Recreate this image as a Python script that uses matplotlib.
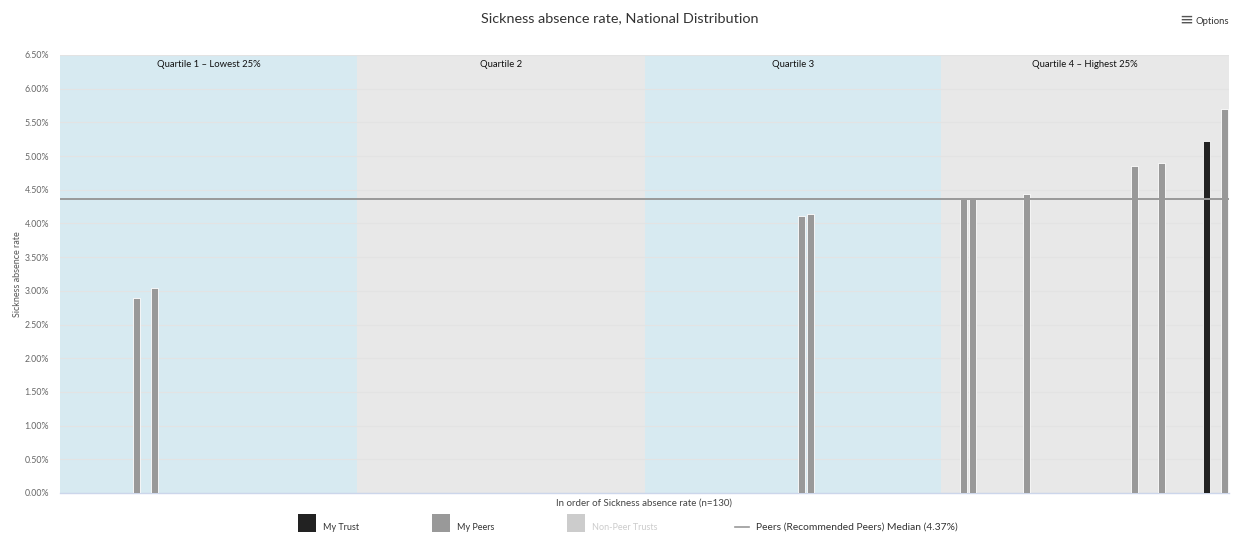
import matplotlib
matplotlib.use("Agg")
import matplotlib.pyplot as plt
from matplotlib.patches import Rectangle
from matplotlib.lines import Line2D

# ---------------- data ----------------
n_trusts = 130
quartile_labels = ["Quartile 1 \u2013 Lowest 25%", "Quartile 2", "Quartile 3", "Quartile 4 \u2013 Highest 25%"]
quartile_sizes = [33, 32, 33, 32]
peer_positions = [8, 10, 82, 83, 100, 101, 107, 119, 122, 129]
peer_values = [2.90, 3.04, 4.11, 4.14, 4.36, 4.37, 4.44, 4.85, 4.89, 5.70]
my_trust_position = [127]
my_trust_value = [5.22]
peer_median = 4.37
y_ticks = [0.0, 0.5, 1.0, 1.5, 2.0, 2.5, 3.0, 3.5, 4.0, 4.5, 5.0, 5.5, 6.0, 6.5]
legend_labels = ["My Trust", "My Peers", "Non-Peer Trusts", "Peers (Recommended Peers) Median (4.37%)"]

plt.rcParams['font.family'] = ['Lato', 'DejaVu Sans']

W, H = 1234, 533
fig = plt.figure(figsize=(W / 100, H / 100), dpi=100)
left, right, top, bottom = 60, 1229, 55, 493
ax = fig.add_axes([left / W, 1 - bottom / H, (right - left) / W, (bottom - top) / H])

band_colors = ["#d7eaf1", "#e8e8e8", "#d7eaf1", "#e8e8e8"]
start = -0.5
for size, lab, col in zip(quartile_sizes, quartile_labels, band_colors):
    ax.axvspan(start, start + size, color=col, zorder=0, lw=0)
    ax.text(start + size / 2, 6.36, lab, ha="center", va="center", fontsize=6.8, color="#111111", zorder=5)
    start += size

for t in y_ticks:
    ax.axhline(t, color="#e3e3e3", lw=0.8, zorder=1)

ax.bar(peer_positions, peer_values, width=0.78, color="#999999", edgecolor="white", linewidth=0.6, zorder=3)
ax.bar(my_trust_position, my_trust_value, width=0.78, color="#222222", edgecolor="white", linewidth=0.6, zorder=3)
ax.axhline(peer_median, color="#999999", lw=1.4, zorder=4)

ax.set_xlim(-0.5, n_trusts - 0.5)
ax.set_ylim(0, 6.5)
ax.set_yticks(y_ticks)
ax.set_yticklabels([f"{t:.2f}%" for t in y_ticks], fontsize=6.3, color="#666666")
ax.set_xticks([])
ax.tick_params(axis="y", length=0, pad=8)
for s in ["left", "right", "top"]:
    ax.spines[s].set_visible(False)
ax.spines["bottom"].set_color("#ccd6eb")
ax.spines["bottom"].set_linewidth(1.0)
ax.set_ylabel("Sickness absence rate", fontsize=6.5, color="#555555", labelpad=2)
ax.set_xlabel("In order of Sickness absence rate (n=130)", fontsize=7.0, color="#444444", labelpad=4)

# title and options
fig.text(620 / W, 1 - 18 / H, "Sickness absence rate, National Distribution", ha="center", va="center",
         fontsize=10.4, color="#333333")
fig.text(1186 / W, 1 - 20 / H, "\u2261", ha="center", va="center", fontsize=12, color="#555555", family="DejaVu Sans")
fig.text(1196 / W, 1 - 21 / H, "Options", ha="left", va="center", fontsize=6.8, color="#333333")

# legend (manual, matching layout)
sq = [(298, "#222222", "#333333"), (432, "#999999", "#333333"), (567, "#cccccc", "#cccccc")]
for (x0, fc, tc), lab in zip(sq, legend_labels[:3]):
    fig.add_artist(Rectangle((x0 / W, 1 - 532 / H), 18 / W, 18 / H, transform=fig.transFigure,
                             facecolor=fc, edgecolor="none"))
    fig.text((x0 + 25) / W, 1 - 528 / H, lab, ha="left", va="center", fontsize=6.5, color=tc)
fig.add_artist(Line2D([735 / W, 749 / W], [1 - 527 / H, 1 - 527 / H], transform=fig.transFigure,
                      color="#999999", lw=1.2))
fig.text(756 / W, 1 - 527 / H, legend_labels[3], ha="left", va="center", fontsize=7.4, color="#333333")

fig.savefig("out.png", dpi=100)
